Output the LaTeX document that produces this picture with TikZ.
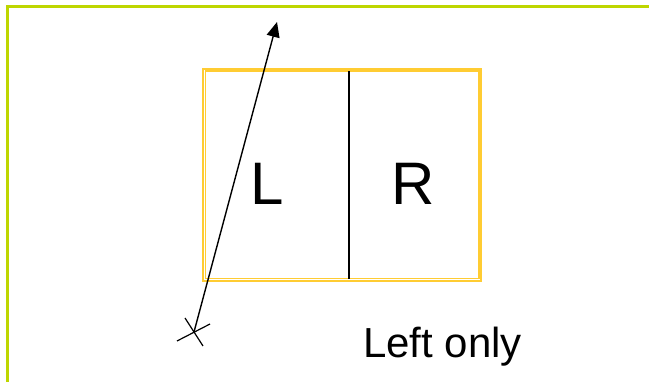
\documentclass[tikz,border=0pt]{standalone}
\usepackage{fontspec}
\setmainfont{Liberation Sans}
\usetikzlibrary{arrows.meta,positioning,calc}
\definecolor{framecolor}{RGB}{190,214,0}
\definecolor{doorcolor}{RGB}{255,204,51}

\begin{document}
\begin{tikzpicture}[
    x=1pt, y=-1pt,
    door/.style={rectangle, draw=doorcolor, line width=1.1pt, minimum width=278pt, minimum height=212pt, inner sep=0pt},
    side/.style={inner sep=0pt, anchor=base, font=\fontsize{60}{60}\selectfont},
    caption/.style={inner sep=0pt, anchor=base west, font=\fontsize{42}{42}\selectfont},
    arrow/.style={-{Triangle[length=15pt,width=13pt]}, line width=1.4pt}
]
\useasboundingbox (0,0) rectangle (649,382);

% frame
\draw[framecolor, line width=3pt] (7,382) -- (7,7) -- (649,7);

\node[door] (door) at (342,175) {};
\draw[doorcolor, line width=1.1pt] ([shift={(2.6,2.6)}]door.north west) rectangle ([shift={(-2.6,-2.6)}]door.south east);
\draw[line width=1.4pt] ([shift={(7,3)}]door.north) -- ([shift={(7,-3)}]door.south);

\node[side] (left) at (267,205) {L};
\node[side] (right) at (413,205) {R};

\coordinate (start) at (194,332);
\coordinate (tip) at (277,22);
\draw[line width=1.2pt] ($(start)+(-17,9)$) -- ($(start)+(16,-8)$);
\draw[line width=1.2pt] ($(start)+(-9,-14)$) -- ($(start)+(9,14)$);
\draw[arrow] (start) -- (tip);

\node[caption] (only) at (363,358) {Left only};

\end{tikzpicture}
\end{document}
